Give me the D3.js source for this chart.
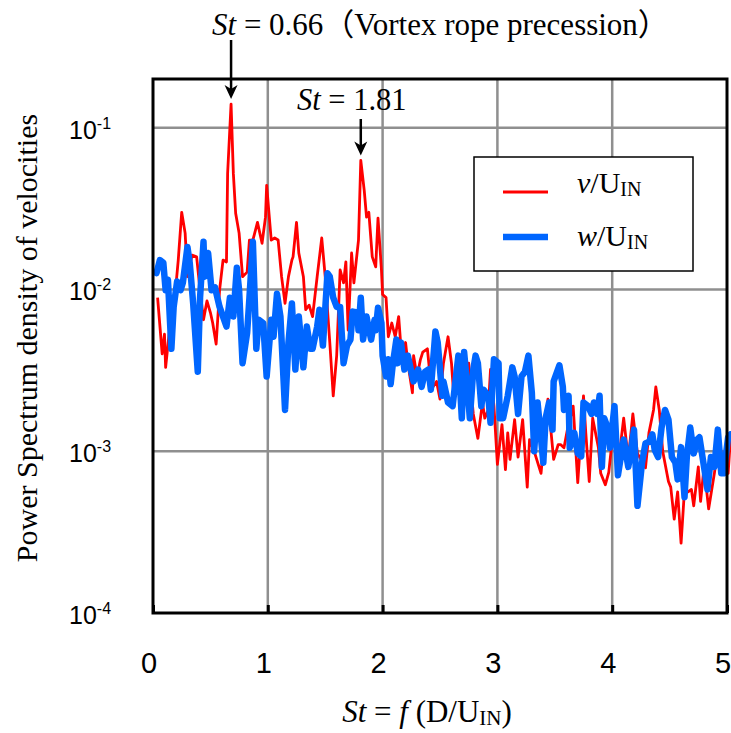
<!DOCTYPE html>
<html>
<head>
<meta charset="utf-8">
<script src="https://cdn.jsdelivr.net/npm/d3@7"></script>
<style>
  body { margin: 0; background: #fff; }
  svg { display: block; }
</style>
</head>
<body>
<svg></svg>
<script>
// v / U_IN spectrum (red)
var stV = [0.04,0.08,0.10,0.11,0.15,0.19,0.22,0.25,0.28,0.30,0.34,0.38,0.41,0.44,0.47,0.50,0.52,0.55,0.58,0.61,
  0.64,0.65,0.68,0.70,0.72,0.75,0.78,0.82,0.84,0.87,0.91,0.95,0.98,0.99,1.03,1.06,1.09,1.12,1.15,1.18,
  1.21,1.22,1.25,1.27,1.31,1.33,1.36,1.39,1.43,1.47,1.50,1.54,1.57,1.60,1.63,1.66,1.68,1.70,1.73,1.75,
  1.79,1.81,1.84,1.86,1.88,1.91,1.94,1.96,1.99,2.00,2.03,2.05,2.08,2.11,2.14,2.17,2.20,2.22,2.26,2.27,
  2.30,2.33,2.35,2.39,2.41,2.44,2.47,2.50,2.53,2.57,2.60,2.62,2.66,2.69,2.72,2.75,2.79,2.83,2.87,2.89,
  2.92,2.94,2.97,3.00,3.04,3.07,3.09,3.11,3.15,3.18,3.22,3.26,3.28,3.33,3.38,3.44,3.49,3.53,3.55,3.58,
  3.61,3.66,3.70,3.75,3.77,3.80,3.83,3.88,3.90,3.94,3.97,4.01,4.05,4.10,4.14,4.18,4.22,4.29,4.32,4.36,
  4.38,4.41,4.44,4.49,4.51,4.54,4.57,4.60,4.63,4.66,4.69,4.71,4.75,4.77,4.80,4.84,4.89,4.93,4.97,5.01,5.03];
var psdV = [0.0089,0.0040,0.0053,0.0033,0.0062,0.0089,0.0152,0.0300,0.0223,0.0120,0.0163,0.0159,0.0099,0.0065,0.0085,0.0072,0.0062,0.0046,0.0099,0.0152,
  0.0148,0.0521,0.140,0.0520,0.0296,0.0223,0.0120,0.0128,0.0202,0.0202,0.0260,0.0193,0.0280,0.0440,0.0202,0.0208,0.0202,0.0120,0.0082,0.0120,
  0.0152,0.0159,0.0260,0.0168,0.0120,0.0075,0.0080,0.0068,0.0120,0.0208,0.0120,0.0047,0.0022,0.0039,0.0132,0.0110,0.0148,0.0056,0.0168,0.0110,
  0.0202,0.0627,0.0410,0.0280,0.0300,0.0159,0.0138,0.0276,0.0132,0.0093,0.0089,0.0051,0.0062,0.0051,0.0068,0.0035,0.0047,0.0035,0.0023,0.0039,
  0.0029,0.0037,0.0041,0.0043,0.0031,0.0025,0.0027,0.0021,0.0035,0.0051,0.0035,0.0022,0.0027,0.0024,0.0021,0.0035,0.0017,0.0012,0.0020,0.0016,
  0.0018,0.0032,0.0019,0.00083,0.00146,0.00077,0.0013,0.00089,0.00157,0.00092,0.00157,0.00060,0.00118,0.00095,0.00073,0.0021,0.00089,0.0011,0.0011,0.00105,
  0.00136,0.0019,0.00064,0.0022,0.0013,0.00065,0.0016,0.00105,0.00073,0.00062,0.00074,0.00136,0.00080,0.0016,0.00089,0.0017,0.00097,0.00079,0.0013,0.0018,
  0.0025,0.0018,0.0010,0.00065,0.00060,0.00038,0.00056,0.00027,0.00058,0.00056,0.00058,0.00046,0.00080,0.00049,0.00080,0.00044,0.00073,0.00118,0.00080,0.00073,0.0012];

// w / U_IN spectrum (blue)
var stW = [0.03,0.06,0.09,0.11,0.13,0.16,0.18,0.21,0.24,0.26,0.30,0.32,0.35,0.39,0.41,0.44,0.45,0.48,0.51,0.54,
  0.58,0.61,0.64,0.67,0.70,0.73,0.75,0.78,0.82,0.84,0.87,0.90,0.92,0.96,0.99,1.03,1.05,1.08,1.11,1.15,
  1.18,1.21,1.24,1.27,1.31,1.34,1.37,1.39,1.43,1.45,1.48,1.52,1.54,1.57,1.60,1.63,1.66,1.69,1.72,1.74,
  1.78,1.79,1.81,1.83,1.86,1.87,1.90,1.93,1.94,1.96,1.99,2.00,2.03,2.05,2.07,2.09,2.12,2.13,2.16,2.19,
  2.22,2.25,2.27,2.31,2.34,2.37,2.40,2.42,2.46,2.48,2.52,2.53,2.57,2.61,2.66,2.69,2.71,2.74,2.76,2.79,
  2.81,2.83,2.86,2.88,2.92,2.94,2.97,3.01,3.02,3.05,3.09,3.13,3.15,3.18,3.21,3.24,3.27,3.30,3.32,3.35,
  3.40,3.42,3.45,3.48,3.49,3.54,3.57,3.58,3.62,3.63,3.67,3.70,3.73,3.75,3.79,3.82,3.84,3.87,3.89,3.91,
  3.93,3.96,3.98,4.02,4.05,4.08,4.10,4.14,4.16,4.19,4.22,4.26,4.29,4.32,4.35,4.37,4.40,4.43,4.46,4.49,
  4.52,4.55,4.57,4.60,4.63,4.65,4.68,4.71,4.74,4.76,4.80,4.83,4.86,4.89,4.92,4.95,4.97,5.01,5.03];
var psdW = [0.0126,0.0152,0.0146,0.0099,0.0115,0.0043,0.0078,0.0112,0.0099,0.0110,0.0183,0.0146,0.0082,0.0031,0.0089,0.0197,0.0120,0.0168,0.0099,0.0103,
  0.0078,0.0068,0.0059,0.0089,0.0068,0.0136,0.0099,0.0035,0.0054,0.0089,0.0197,0.0043,0.0065,0.0062,0.0029,0.0065,0.0051,0.0094,0.0068,0.0018,
  0.0047,0.0082,0.0032,0.0068,0.0033,0.0059,0.0043,0.0043,0.0059,0.0075,0.0045,0.0126,0.0120,0.0089,0.0078,0.0078,0.0035,0.0045,0.0049,0.0073,
  0.0072,0.0056,0.0089,0.0049,0.0068,0.0062,0.0049,0.0065,0.0056,0.0077,0.0062,0.0039,0.0029,0.0037,0.0026,0.0035,0.0049,0.0035,0.0047,0.0032,
  0.0039,0.0031,0.0027,0.0032,0.0025,0.0031,0.0032,0.0024,0.0055,0.0047,0.0022,0.0027,0.0020,0.0019,0.0039,0.0016,0.0041,0.0024,0.0016,0.0032,
  0.0039,0.0035,0.0019,0.0024,0.0022,0.0015,0.0037,0.0035,0.0016,0.0016,0.0022,0.0033,0.0029,0.0017,0.0029,0.0031,0.0039,0.0023,0.0010,0.0020,
  0.00085,0.0016,0.0020,0.00136,0.0027,0.0034,0.0025,0.0018,0.0022,0.00105,0.0013,0.00097,0.00093,0.0020,0.0019,0.0017,0.0020,0.0017,0.0022,0.00080,
  0.0016,0.0014,0.00105,0.0019,0.00071,0.00097,0.00118,0.00080,0.00097,0.00136,0.00046,0.00085,0.00112,0.00114,0.00127,0.00102,0.00092,0.0014,0.0018,0.00157,
  0.00092,0.00085,0.00067,0.00106,0.00052,0.00092,0.0014,0.00097,0.00118,0.00122,0.00080,0.00058,0.00092,0.00080,0.00136,0.00073,0.00073,0.00122,0.00127];

var xTicks = [0, 1, 2, 3, 4, 5];
var yTicks = [1e-1, 1e-2, 1e-3, 1e-4];
var yTickExp = ['-1', '-2', '-3', '-4'];
var peakSt = [0.68, 1.81];
var peakPsd = [0.140, 0.0627];

var svg = d3.select('svg')
    .attr('width', 731)
    .attr('height', 733);

var serif = '"Liberation Serif", "Times New Roman", serif';
var sans = '"Liberation Sans", Arial, sans-serif';

var x = d3.scaleLinear().domain([0, 5]).range([153, 727]);
var y = d3.scaleLog().domain([1e-4, 0.2]).range([613, 79]);

// grid
var grid = svg.append('g').attr('stroke', '#8f8f8f').attr('stroke-width', 2.5);
grid.selectAll('line.gx')
    .data(xTicks.slice(1, -1))
    .enter().append('line')
        .attr('x1', (d) => x(d)).attr('x2', (d) => x(d))
        .attr('y1', y.range()[0]).attr('y2', y.range()[1]);
grid.selectAll('line.gy')
    .data(yTicks.slice(0, -1))
    .enter().append('line')
        .attr('x1', x.range()[0]).attr('x2', x.range()[1])
        .attr('y1', (d) => y(d)).attr('y2', (d) => y(d));

// inner tick marks
svg.append('g')
    .attr('transform', 'translate(0,' + y.range()[0] + ')')
    .call(d3.axisBottom(x).tickValues(xTicks).tickSize(-8).tickFormat(''))
    .call((g) => g.select('.domain').remove())
    .selectAll('line').attr('stroke', '#000').attr('stroke-width', 3);

// series
var line = d3.line()
    .x((d) => x(d[0]))
    .y((d) => y(d[1]));

svg.append('path')
    .datum(d3.zip(stV, psdV))
    .attr('fill', 'none')
    .attr('stroke', '#ff0000')
    .attr('stroke-width', 2.8)
    .attr('stroke-linejoin', 'round')
    .attr('d', line);

svg.append('path')
    .datum(d3.zip(stW, psdW))
    .attr('fill', 'none')
    .attr('stroke', '#0066ff')
    .attr('stroke-width', 6.5)
    .attr('stroke-linejoin', 'round')
    .attr('stroke-linecap', 'round')
    .attr('d', line);

// frame
svg.append('rect')
    .attr('x', x.range()[0]).attr('y', y.range()[1])
    .attr('width', x.range()[1] - x.range()[0])
    .attr('height', y.range()[0] - y.range()[1])
    .attr('fill', 'none').attr('stroke', '#000').attr('stroke-width', 3);

// x tick labels
svg.append('g').selectAll('text')
    .data(xTicks)
    .enter().append('text')
        .attr('x', (d) => x(d) - 4)
        .attr('y', 673)
        .attr('text-anchor', 'middle')
        .attr('font-family', sans)
        .attr('font-size', 29)
        .text((d) => d);

// y tick labels 10^n
var yl = svg.append('g').selectAll('text')
    .data(yTicks)
    .enter().append('text')
        .attr('x', 69)
        .attr('y', (d) => y(d) + 11)
        .attr('font-family', sans)
        .attr('font-size', 25);
yl.append('tspan').text('10');
yl.append('tspan')
    .attr('font-size', 16)
    .attr('dy', -10)
    .text((d, i) => yTickExp[i]);

// axis titles
var xt = svg.append('text')
    .attr('x', 427).attr('y', 722)
    .attr('text-anchor', 'middle')
    .attr('font-family', serif)
    .attr('font-size', 31);
xt.append('tspan').attr('font-style', 'italic').text('St');
xt.append('tspan').text(' = ');
xt.append('tspan').attr('font-style', 'italic').text('f');
xt.append('tspan').text(' (D/U');
xt.append('tspan').attr('font-size', 21).attr('dy', 3).text('IN');
xt.append('tspan').attr('dy', -3).text(')');

svg.append('text')
    .attr('transform', 'translate(37,338) rotate(-90)')
    .attr('text-anchor', 'middle')
    .attr('font-family', serif)
    .attr('font-size', 30)
    .text('Power Spectrum density of velocities');

// peak annotations
var arrowTop = [40, 119];
var arrows = svg.append('g').selectAll('g')
    .data(peakSt)
    .enter().append('g')
        .attr('transform', (d, i) => 'translate(' + x(d) + ',0)');
arrows.append('line')
    .attr('x1', 0).attr('x2', 0)
    .attr('y1', (d, i) => arrowTop[i])
    .attr('y2', (d, i) => y(peakPsd[i]) - 12)
    .attr('stroke', '#000').attr('stroke-width', 2.5);
arrows.append('path')
    .attr('transform', (d, i) => 'translate(0,' + (y(peakPsd[i]) - 5) + ')')
    .attr('d', 'M0,0 L-6.5,-14 L0,-10 L6.5,-14 Z')
    .attr('fill', '#000');

var a1 = svg.append('text')
    .attr('x', 212).attr('y', 35)
    .attr('font-family', serif + ', "Noto Sans CJK JP"')
    .attr('font-size', 31);
a1.append('tspan').attr('font-style', 'italic').text('St');
a1.append('tspan').text(' = 0.66（Vortex rope precession）');

var a2 = svg.append('text')
    .attr('x', 297).attr('y', 110)
    .attr('font-family', serif)
    .attr('font-size', 30.5);
a2.append('tspan').attr('font-style', 'italic').text('St');
a2.append('tspan').text(' = 1.81');

// legend
var legendNames = ['v', 'w'];
var legendColors = ['#ff0000', '#0066ff'];
var legendWidths = [2.8, 6.5];
var legendY = [192, 237];
var textY = [193, 246];

svg.append('rect')
    .attr('x', 474).attr('y', 157)
    .attr('width', 219).attr('height', 114)
    .attr('fill', '#fff').attr('stroke', '#000').attr('stroke-width', 1.5);

var lg = svg.append('g').selectAll('g')
    .data(legendNames)
    .enter().append('g');
lg.append('line')
    .attr('x1', 503).attr('x2', 548)
    .attr('y1', (d, i) => legendY[i]).attr('y2', (d, i) => legendY[i])
    .attr('stroke', (d, i) => legendColors[i])
    .attr('stroke-width', (d, i) => legendWidths[i]);
var lt = lg.append('text')
    .attr('x', 577)
    .attr('y', (d, i) => textY[i])
    .attr('font-family', serif)
    .attr('font-size', 30);
lt.append('tspan').attr('font-style', 'italic').text((d) => d);
lt.append('tspan').text('/U');
lt.append('tspan').attr('font-size', 20).attr('dy', 3).text('IN');
</script>
</body>
</html>
